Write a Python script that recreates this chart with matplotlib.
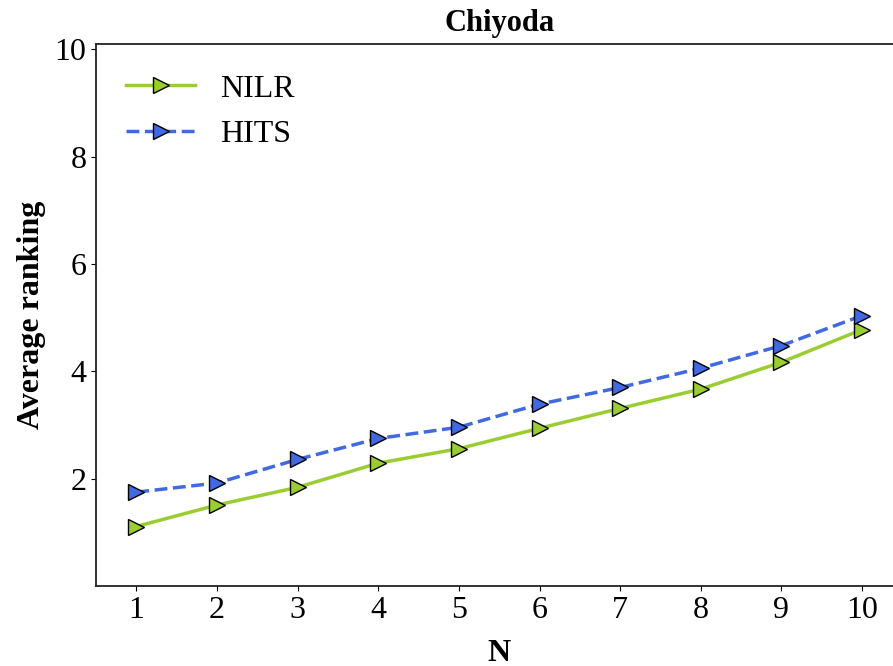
import numpy as np
import matplotlib
matplotlib.use('Agg')
import matplotlib.pyplot as plt

plt.rcParams['font.family'] = ['Liberation Serif', 'DejaVu Serif']

n_values = [1, 2, 3, 4, 5, 6, 7, 8, 9, 10]
nilr = [1.11, 1.51, 1.84, 2.29, 2.56, 2.94, 3.31, 3.67, 4.17, 4.78]
hits = [1.75, 1.92, 2.36, 2.75, 2.96, 3.39, 3.70, 4.06, 4.48, 5.04]
y_ticks = [2, 4, 6, 8, 10]

fig = plt.figure(figsize=(8.93, 6.66), dpi=100)
ax = fig.add_axes([0.1075, 0.12, 0.903, 0.814])

ax.plot(n_values, nilr, '->', color='#9acd32', lw=2.5, ms=11,
        markeredgecolor='black', markeredgewidth=1, label='NILR')
ax.plot(n_values, hits, '-->', color='#4169e1', lw=2.5, ms=11,
        markeredgecolor='black', markeredgewidth=1, label='HITS')

ax.set_xlim(0.5, 10.5)
ax.set_ylim(0, 10.1)
ax.set_xticks(n_values)
ax.set_yticks(y_ticks)
ax.tick_params(labelsize=23)
for s in ax.spines.values():
    s.set_linewidth(1.3)
    s.set_color('#222222')
ax.spines['right'].set_visible(False)
ax.set_xlabel('N', fontsize=23, fontweight='bold', labelpad=10)
ax.set_ylabel('Average ranking', fontsize=23, fontweight='bold', labelpad=6)
ax.set_title('Chiyoda', fontsize=22, fontweight='bold', pad=9)
ax.legend(loc='upper left', fontsize=23, frameon=False, handlelength=2.15,
          handletextpad=0.8, borderaxespad=0.55)

fig.savefig('out.png', dpi=100)
